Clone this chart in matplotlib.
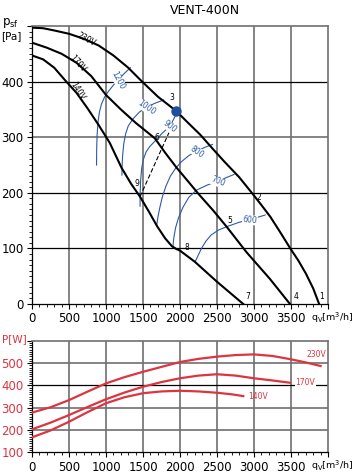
import matplotlib
matplotlib.use("Agg")
import matplotlib.pyplot as plt
from matplotlib.ticker import MultipleLocator, FixedLocator

# pressure curves (q in m3/h, p in Pa)
q230 = [0, 150, 300, 500, 700, 900, 1100, 1300, 1480, 1700, 1950, 2100, 2270, 2450,
        2600, 2800, 2970, 3100, 3220, 3350, 3490, 3600, 3700, 3800, 3880]
p230 = [497, 496, 492, 486, 477, 465, 447, 425, 401, 373, 347, 327, 305, 278,
        256, 228, 200, 178, 157, 130, 100, 78, 55, 28, 0]
q170 = [0, 200, 400, 600, 800, 1000, 1200, 1400, 1660, 1800, 1955, 2100, 2250, 2450,
        2630, 2900, 3216, 3486]
p170 = [470, 461, 450, 434, 410, 376, 350, 326, 298, 272, 245, 222, 198, 168,
        139, 93, 45, 0]
q140 = [0, 150, 300, 450, 600, 750, 900, 1050, 1210, 1340, 1460, 1580, 1690, 1800,
        1890, 1950, 2000, 2200, 2500, 2855]
p140 = [447, 440, 425, 402, 380, 352, 322, 290, 245, 216, 193, 166, 140, 118,
        104, 99, 96, 76, 40, 0]

# blue lines
iso = {
    "1200": ([872, 874, 880, 893, 912, 940, 980, 1030, 1090, 1160, 1250, 1330],
             [250, 280, 305, 328, 346, 360, 372, 382, 392, 403, 415, 425]),
    "1000": ([1215, 1218, 1225, 1240, 1265, 1300, 1365, 1450, 1550, 1660, 1780],
             [232, 250, 268, 288, 306, 320, 333, 345, 354, 361, 367]),
    "900": ([1460, 1462, 1468, 1482, 1505, 1540, 1590, 1640, 1700, 1750, 1865, 1932, 1950],
            [176, 200, 222, 244, 260, 273, 283, 290, 298, 306, 320, 337, 347]),
    "800": ([1685, 1700, 1725, 1760, 1810, 1870, 1940, 2020, 2120, 2225, 2340, 2440],
            [142, 155, 172, 192, 212, 230, 244, 256, 267, 275, 282, 287]),
    "700": ([1905, 1915, 1940, 1980, 2040, 2120, 2225, 2370, 2510, 2620, 2730],
            [104, 118, 137, 155, 174, 192, 205, 214, 221, 227, 233]),
    "600": ([2205, 2240, 2290, 2350, 2420, 2520, 2630, 2800, 2950, 3150],
            [76, 86, 100, 113, 124, 133, 139, 147, 152, 160]),
}
iso_lab = {"1200": (1162, 403, -62), "1000": (1550, 353, -35), "900": (1865, 319, -38),
           "800": (2225, 274, -35), "700": (2513, 220, -22), "600": (2945, 151, -5)}

# system line 9 -> 6
q_sys = [1460, 1850]
p_sys = [193, 308]

pt_names = ["1", "2", "3", "4", "5", "6", "7", "8", "9"]
pt_q = [3918, 3067, 1891, 3567, 2675, 1689, 2918, 2094, 1419]
pt_p = [13, 192, 371, 13, 151, 300, 14, 101, 216]

# power curves
wq230 = [0, 250, 500, 750, 1000, 1250, 1500, 1750, 2000, 2250, 2500, 2750, 3000, 3250, 3500, 3700, 3900]
w230 = [278, 302, 334, 372, 409, 437, 461, 483, 505, 519, 529, 536, 539, 532, 517, 503, 487]
wq170 = [0, 250, 500, 750, 1000, 1250, 1500, 1750, 2000, 2250, 2500, 2750, 3000, 3250, 3486]
w170 = [203, 233, 267, 303, 338, 368, 394, 415, 432, 444, 450, 444, 432, 422, 412]
wq140 = [0, 250, 500, 750, 1000, 1250, 1500, 1750, 2000, 2250, 2500, 2700, 2855]
w140 = [167, 198, 237, 280, 320, 347, 365, 373, 376, 373, 367, 360, 352]

xticks = [0, 500, 1000, 1500, 2000, 2500, 3000, 3500]
blue = "#2d5ba3"
red = "#dc3540"
grey = "#707070"

W, H = 353, 475
fig = plt.figure(figsize=(W / 100, H / 100), dpi=100)
ax = fig.add_axes([32 / W, 1 - 304 / H, 296 / W, 278 / H])
ax2 = fig.add_axes([32 / W, 1 - 452.3 / H, 296 / W, 111.5 / H])


def style(a, ymin, ymax, hblack):
    a.set_xlim(0, 4000)
    a.set_ylim(ymin, ymax)
    a.xaxis.set_major_locator(FixedLocator(xticks + [4000]))
    a.xaxis.set_minor_locator(MultipleLocator(100))
    yt = list(range(ymin, ymax + 1, 100))
    a.yaxis.set_major_locator(FixedLocator(yt))
    a.yaxis.set_minor_locator(MultipleLocator(10))
    for x in range(500, 4000, 500):
        a.axvline(x, color=grey, lw=1.2, zorder=1)
    for y in range(ymin + 100, ymax, 100):
        a.axhline(y, color="black" if y in hblack else grey, lw=0.9 if y in hblack else 1.2, zorder=1)
    for s in ["top", "right"]:
        a.spines[s].set_color(grey)
        a.spines[s].set_linewidth(1.2)
    for s in ["left", "bottom"]:
        a.spines[s].set_linewidth(0.9)
    a.tick_params(which="major", length=3.5, width=0.8, labelsize=8.5, pad=2.5)
    a.tick_params(which="minor", length=2, width=0.6)
    a.set_xticklabels([str(t) for t in xticks] + [""])
    a.set_yticklabels([str(t) for t in yt[:-1]] + [""])


style(ax, 0, 500, [100, 200, 400])

ax.plot(q230, p230, color="black", lw=1.5, zorder=4)
ax.plot(q170, p170, color="black", lw=1.5, zorder=4)
ax.plot(q140, p140, color="black", lw=1.5, zorder=4)
ax.plot(q_sys, p_sys, color="black", lw=0.8, dashes=(4, 2), zorder=4)
for k, (xs, ys) in iso.items():
    ax.plot(xs, ys, color=blue, lw=0.8, zorder=3)
    lx, ly, r = iso_lab[k]
    ax.text(lx, ly, k, color=blue, fontsize=5.5, rotation=r, ha="center", va="center",
            zorder=5, bbox=dict(boxstyle="square,pad=0.05", fc="white", ec="none"))
ax.plot([1950], [347], "o", color="#1f4e9e", ms=6.5, zorder=6)
for n, x, y in zip(pt_names, pt_q, pt_p):
    ax.text(x, y, n, fontsize=5.5, ha="center", va="center", zorder=6)
ax.text(735, 476, "230V", fontsize=5.5, rotation=-28, ha="center", va="center")
ax.text(621, 432, "170V", fontsize=5.5, rotation=-48, ha="center", va="center")
ax.text(615, 383, "140V", fontsize=5.5, rotation=-58, ha="center", va="center")

style(ax2, 100, 600, [400])
ax2.tick_params(axis="y", labelcolor=red)
ax2.plot(wq230, w230, color=red, lw=1.6, zorder=4)
ax2.plot(wq170, w170, color=red, lw=1.6, zorder=4)
ax2.plot(wq140, w140, color=red, lw=1.6, zorder=4)
ax2.text(3846, 539, "230V", color=red, fontsize=5.5, ha="center", va="center")
ax2.text(3560, 411, "170V", color=red, fontsize=5.5, ha="left", va="center",
         bbox=dict(boxstyle="square,pad=0.05", fc="white", ec="none"))
ax2.text(2920, 352, "140V", color=red, fontsize=5.5, ha="left", va="center")

fig.text(205 / W, 1 - 10 / H, "VENT-400N", fontsize=9, ha="center", va="center")
fig.text(2 / W, 1 - 23 / H, r"$\mathregular{p_{sf}}$", fontsize=8.5, ha="left", va="center")
fig.text(1 / W, 1 - 36 / H, "[Pa]", fontsize=7.5, ha="left", va="center")
fig.text(2 / W, 1 - 339 / H, "P[W]", fontsize=7.5, color=red, ha="left", va="center")
fig.text(311 / W, 1 - 318 / H, r"$\mathregular{q_V[m^3/h]}$", fontsize=6.8, ha="left", va="center")
fig.text(311 / W, 1 - 466 / H, r"$\mathregular{q_V[m^3/h]}$", fontsize=6.8, ha="left", va="center")

fig.savefig("out.png", dpi=100)
